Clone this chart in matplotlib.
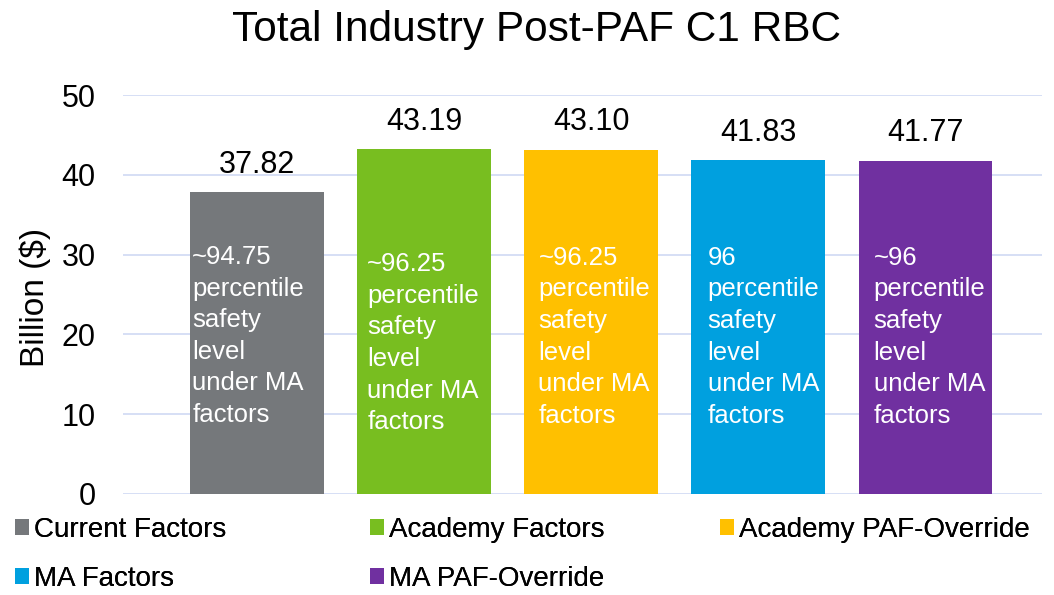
import numpy as np
import matplotlib.pyplot as plt

plt.rcParams['font.family'] = ['Liberation Sans', 'DejaVu Sans']

# data
series = ["Current Factors", "Academy Factors", "Academy PAF-Override",
          "MA Factors", "MA PAF-Override"]
values = [37.82, 43.19, 43.10, 41.83, 41.77]
notes = ["~94.75\npercentile\nsafety\nlevel\nunder MA\nfactors",
         "~96.25\npercentile\nsafety\nlevel\nunder MA\nfactors",
         "~96.25\npercentile\nsafety\nlevel\nunder MA\nfactors",
         "96\npercentile\nsafety\nlevel\nunder MA\nfactors",
         "~96\npercentile\nsafety\nlevel\nunder MA\nfactors"]
colors = ["#75787B", "#78BE20", "#FFC000", "#00A0DF", "#7030A0"]

# text placement inside bars (layout only)
note_dx = [0.012, 0.06, 0.084, 0.096, 0.09]
note_top = [31.2, 30.3, 31.1, 31.1, 31.1]
# legend entry positions (figure fractions)
leg_pos = [(0.014, 0.109), (0.351, 0.109), (0.683, 0.109),
           (0.014, 0.027), (0.351, 0.027)]

fig = plt.figure(figsize=(10.54, 5.95), dpi=100)
ax = fig.add_axes([0.117, 0.170, 0.872, 0.670])

x = np.arange(len(values))
w = 0.8
bars = ax.bar(x, values, width=w, color=colors, label=series, zorder=2)

for xi, v, n, dx, t in zip(x, values, notes, note_dx, note_top):
    ax.text(xi, v + 1.6, f"{v:.2f}", ha='center', va='bottom', fontsize=22)
    ax.text(xi - w / 2 + dx, t, n, ha='left', va='top', fontsize=18.5,
            color='white', linespacing=1.4, zorder=3)

ax.set_ylim(0, 50)
ax.set_xlim(-0.8, 4.7)
ax.set_yticks(range(0, 51, 10))
ax.set_xticks([])
ax.tick_params(axis='y', labelsize=22, length=0, pad=20)
ax.grid(axis='y', color='#D3DCF5', linewidth=1.3, zorder=0)
for s in ax.spines.values():
    s.set_visible(False)

fig.text(35 / 1054, 1 - 297 / 595, "Billion ($)", rotation=90,
         ha='center', va='center', fontsize=24)
fig.text(537 / 1054, 1 - 30 / 595, "Total Industry Post-PAF C1 RBC",
         ha='center', va='center', fontsize=30.5)

for b, lab, (lx, ly) in zip(bars, series, leg_pos):
    lg = fig.legend(handles=[b], labels=[lab], loc='center left',
                    bbox_to_anchor=(lx, ly), frameon=False, fontsize=20,
                    handlelength=0.5, handleheight=0.5, handletextpad=0.2,
                    borderpad=0, borderaxespad=0)
    fig.add_artist(lg)

fig.savefig("out.png", dpi=100)
